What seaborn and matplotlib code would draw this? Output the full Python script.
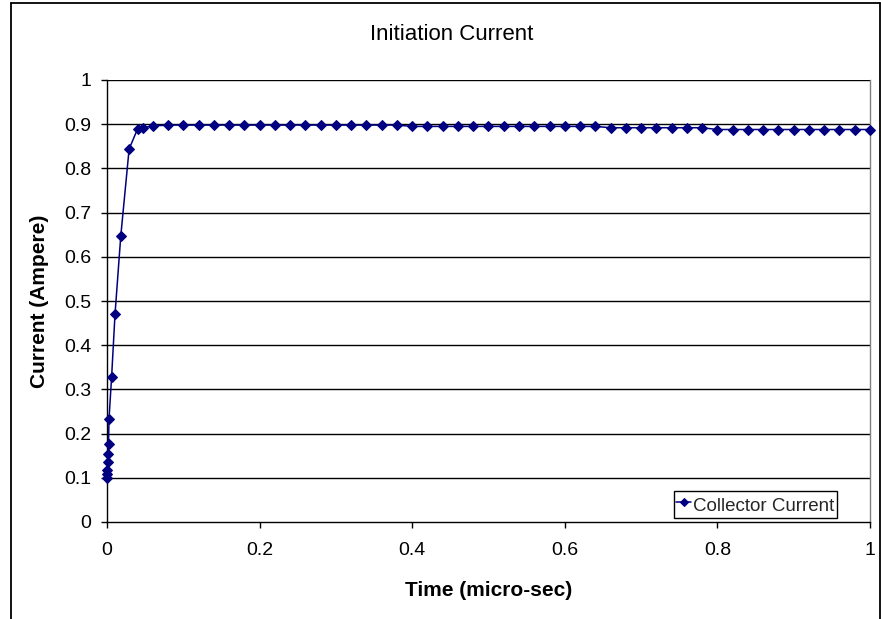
import matplotlib
matplotlib.use("Agg")
import matplotlib.pyplot as plt
from matplotlib.lines import Line2D
import seaborn as sns
import pandas as pd

# ---- data ----
time_us = [0.0, 0.0003, 0.0006, 0.001, 0.0015, 0.002, 0.0026, 0.006, 0.0105, 0.018,
           0.029, 0.040, 0.047, 0.06, 0.08, 0.10, 0.12, 0.14, 0.16, 0.18, 0.20,
           0.22, 0.24, 0.26, 0.28, 0.30, 0.32, 0.34, 0.36, 0.38, 0.40, 0.42, 0.44,
           0.46, 0.48, 0.50, 0.52, 0.54, 0.56, 0.58, 0.60, 0.62, 0.64, 0.66, 0.68,
           0.70, 0.72, 0.74, 0.76, 0.78, 0.80, 0.82, 0.84, 0.86, 0.88, 0.90, 0.92,
           0.94, 0.96, 0.98, 1.00]
current_a = [0.100, 0.109, 0.117, 0.136, 0.153, 0.176, 0.232, 0.327, 0.470, 0.646,
             0.844, 0.889, 0.892, 0.896, 0.898, 0.898, 0.898, 0.898, 0.898, 0.898, 0.898,
             0.898, 0.898, 0.898, 0.898, 0.898, 0.898, 0.898, 0.898, 0.898, 0.895, 0.895, 0.895,
             0.895, 0.895, 0.895, 0.895, 0.895, 0.895, 0.895, 0.895, 0.895, 0.895, 0.892, 0.892,
             0.892, 0.892, 0.892, 0.892, 0.892, 0.888, 0.888, 0.888, 0.888, 0.888, 0.888, 0.888,
             0.888, 0.888, 0.888, 0.888]
series_name = "Collector Current"
title = "Initiation Current"
x_label = "Time (micro-sec)"
y_label = "Current (Ampere)"
x_ticks = [0, 0.2, 0.4, 0.6, 0.8, 1.0]
x_tick_labels = ["0", "0.2", "0.4", "0.6", "0.8", "1"]
y_ticks = [0, 0.1, 0.2, 0.3, 0.4, 0.5, 0.6, 0.7, 0.8, 0.9, 1.0]
y_tick_labels = ["0", "0.1", "0.2", "0.3", "0.4", "0.5", "0.6", "0.7", "0.8", "0.9", "1"]

df = pd.DataFrame({"time": time_us, "current": current_a})

sns.set_theme(style="white")
plt.rcParams["font.family"] = ["Liberation Sans", "DejaVu Sans"]

W, H = 881, 619
fig = plt.figure(figsize=(W / 100, H / 100), dpi=100)
fig.patch.set_facecolor("white")

L, R, T, B = 107, 870, 80, 522
ax = fig.add_axes([L / W, 1 - B / H, (R - L) / W, (B - T) / H])
ax.set_facecolor("white")

navy = "#000080"
sns.lineplot(data=df, x="time", y="current", ax=ax, color=navy, linewidth=1.1,
             marker="D", markersize=5.5, markeredgecolor=navy, markerfacecolor=navy,
             label=series_name, sort=False, clip_on=False, zorder=5)

ax.set_xlim(0, 1)
ax.set_ylim(0, 1)
ax.set_xticks(x_ticks)
ax.set_xticklabels(x_tick_labels)
ax.set_yticks(y_ticks)
ax.set_yticklabels(y_tick_labels)
ax.set_xlabel("")
ax.set_ylabel("")

for yv in y_ticks[1:]:
    ax.axhline(yv, color="black", linewidth=1.0, zorder=1)

for s in ["left", "bottom"]:
    ax.spines[s].set_color("black")
    ax.spines[s].set_linewidth(1.0)
ax.spines["top"].set_visible(False)
ax.spines["right"].set_color("#808080")
ax.spines["right"].set_linewidth(1.0)

ax.tick_params(axis="both", which="major", direction="out", length=4.5, width=1.0,
               color="black", labelsize=14, labelcolor="black")
ax.tick_params(axis="x", pad=10, bottom=True)
ax.tick_params(axis="y", pad=7, left=True)

leg = ax.legend(loc="lower right", bbox_to_anchor=((837 - L) / (R - L), (B - 518) / (B - T)),
                borderaxespad=0, fontsize=13.5, frameon=True, fancybox=False,
                edgecolor="black", framealpha=1, handlelength=0.8, handletextpad=0.08,
                borderpad=0.15, handleheight=1.4, markerscale=0.8)
leg.get_frame().set_linewidth(1.0)

fig.text(452 / W, 1 - 35 / H, title, ha="center", va="center", fontsize=16, color="black")
fig.text((L + R) / 2 / W, 1 - 590 / H, x_label, ha="center", va="center",
         fontsize=15, fontweight="bold", color="black")
fig.text(40 / W, 1 - ((T + B) / 2) / H, y_label, ha="center", va="center",
         rotation=90, fontsize=15, fontweight="bold", color="black")

# outer chart-area border (left, top, right)
fig.add_artist(Line2D([10.5 / W, 10.5 / W], [0, 1 - 2.5 / H], transform=fig.transFigure,
                      color="black", linewidth=1.3))
fig.add_artist(Line2D([10.5 / W, 879.5 / W], [1 - 2.5 / H, 1 - 2.5 / H],
                      transform=fig.transFigure, color="black", linewidth=1.3))
fig.add_artist(Line2D([879.5 / W, 879.5 / W], [0, 1 - 2.5 / H], transform=fig.transFigure,
                      color="black", linewidth=1.3))

fig.savefig("out.png", dpi=100, facecolor="white")
